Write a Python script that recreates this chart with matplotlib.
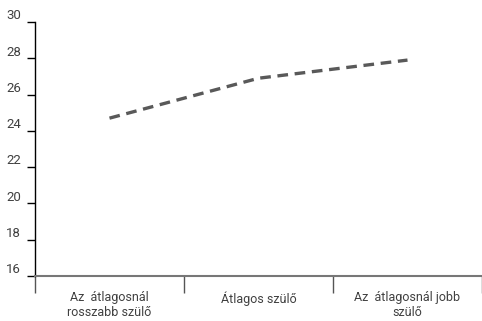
import matplotlib.pyplot as plt
from matplotlib.transforms import ScaledTranslation

plt.rcParams['font.family'] = ['Roboto', 'DejaVu Sans']

categories = ['Az  átlagosnál\nrosszabb szülő', 'Átlagos szülő', 'Az  átlagosnál jobb\nszülő']
values = [24.7, 26.9, 27.9]
yticks = [16, 18, 20, 22, 24, 26, 28, 30]

fig = plt.figure(figsize=(4.82, 3.21), dpi=100)
ax = fig.add_axes([0.0726, 0.1402, 0.9274, 0.7913])

xpos = [i + 0.5 for i in range(len(categories))]
ax.plot(xpos, values, color='#595959', lw=2.4, dashes=(3.2, 2.0))

ax.set_xlim(0, 3)
ax.set_ylim(16, 30)
ax.set_yticks(yticks)
ax.set_xticks([0, 1, 2, 3])
ax.set_xticklabels([])
ax.set_xticks(xpos, minor=True)
ax.set_xticklabels(categories, minor=True, fontsize=9, color='#404040',
                   linespacing=1.2)
ax.tick_params(axis='x', which='minor', length=0, pad=11)
ax.tick_params(axis='x', which='major', length=12, color='#555555', width=1)
ax.tick_params(axis='y', length=6, width=1, color='black', labelsize=9.5,
               labelcolor='#404040', pad=4)

off = ScaledTranslation(0, 5.5 / 72, fig.dpi_scale_trans)
for lab in ax.get_yticklabels():
    lab.set_transform(lab.get_transform() + off)

for s in ['top', 'right']:
    ax.spines[s].set_visible(False)
ax.spines['left'].set_color('black')
ax.spines['left'].set_linewidth(1)
ax.spines['bottom'].set_color('#777777')
ax.spines['bottom'].set_linewidth(1.5)

fig.savefig('out.png', dpi=100)
